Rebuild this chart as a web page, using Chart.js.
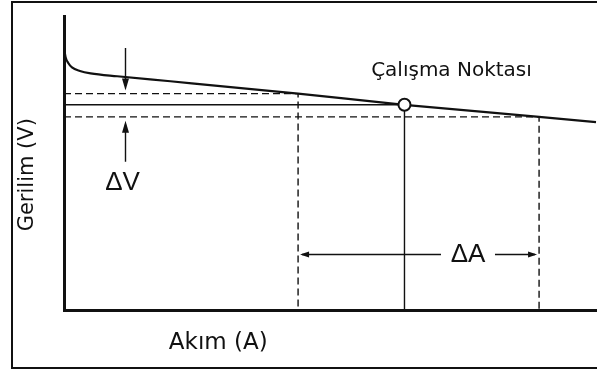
<!DOCTYPE html>
<html lang="tr">
<head>
<meta charset="utf-8">
<title>Gerilim - Akım</title>
<script src="https://cdn.jsdelivr.net/npm/chart.js@4/dist/chart.umd.min.js"></script>
<style>
  html, body { margin: 0; padding: 0; background: #fff; overflow: hidden; }
  #wrap { position: relative; width: 597px; height: 372px; overflow: hidden; }
  #frame { position: absolute; left: 11px; top: 1px; width: 600px; height: 364px;
           border: 2px solid #111; box-sizing: content-box; pointer-events: none; }
  canvas { position: absolute; left: 0; top: 0; }
</style>
</head>
<body>
<div id="wrap">
  <canvas id="chart" width="597" height="372"></canvas>
  <div id="frame"></div>
</div>
<script>
// Source characteristic: current (A) vs. terminal voltage (V), arbitrary units
const currentVals = [0, 0.03, 0.08, 0.15, 0.3, 0.5, 1.0, 2.0, 4.4, 6.4, 8.93, 10];
const voltageVals = [8.91, 8.60, 8.40, 8.25, 8.13, 8.05, 7.95, 7.78, 7.36, 6.98, 6.57, 6.39];

// Operating point and the current swing around it
const operatingCurrent = [6.4];
const operatingVoltage = [6.98];
const swingCurrent = [4.4, 8.93];   // lower / upper current bound (ΔA)
const swingVoltage = [7.36, 6.57];  // voltage at those bounds (ΔV)

const axisLabels = { x: 'Akım (A)', y: 'Gerilim (V)' };
const pointLabel = 'Çalışma Noktası';
const deltaLabels = { v: 'ΔV', a: 'ΔA' };

const ink = '#111';

const curve = currentVals.map((x, i) => ({ x, y: voltageVals[i] }));
const opPoint = { x: operatingCurrent[0], y: operatingVoltage[0] };

function arrowHead(ctx, x, y, dx, dy, len, half) {
  // tip at (x, y), pointing along (dx, dy)
  ctx.beginPath();
  ctx.moveTo(x, y);
  ctx.lineTo(x - dx * len - dy * half, y - dy * len + dx * half);
  ctx.lineTo(x - dx * len + dy * half, y - dy * len - dx * half);
  ctx.closePath();
  ctx.fill();
}

const annotations = {
  id: 'annotations',
  afterDraw(chart) {
    const { ctx, scales: { x: sx, y: sy }, chartArea: ca } = chart;
    ctx.save();
    ctx.fillStyle = ink;
    ctx.strokeStyle = ink;

    // operating point caption
    ctx.font = '20px "DejaVu Sans"';
    ctx.textAlign = 'center';
    ctx.textBaseline = 'alphabetic';
    ctx.fillText(pointLabel, sx.getPixelForValue(opPoint.x) + 47, sy.getPixelForValue(opPoint.y) - 29);

    // ΔV arrows: one pointing down onto the upper bound, one pointing up onto the lower bound
    const avx = Math.round(sx.getPixelForValue(1.15)) + 0.5;
    const vTop = sy.getPixelForValue(swingVoltage[0]);
    const vBot = sy.getPixelForValue(swingVoltage[1]);
    ctx.lineWidth = 1.4;
    ctx.beginPath();
    ctx.moveTo(avx, ca.top + 32);
    ctx.lineTo(avx, vTop - 8);
    ctx.moveTo(avx, vBot + 8);
    ctx.lineTo(avx, vBot + 45);
    ctx.stroke();
    arrowHead(ctx, avx, vTop - 3, 0, 1, 12, 3.5);
    arrowHead(ctx, avx, vBot + 4, 0, -1, 12, 3.5);

    ctx.font = '26px "Liberation Sans"';
    ctx.textAlign = 'center';
    ctx.textBaseline = 'middle';
    ctx.fillText(deltaLabels.v, avx - 3, vBot + 66);

    // ΔA dimension arrow between the two current bounds
    const aL = sx.getPixelForValue(swingCurrent[0]);
    const aR = sx.getPixelForValue(swingCurrent[1]);
    const ay = Math.round(sy.getPixelForValue(1.9)) + 0.5;
    const tx = aL + (aR - aL) * 0.705;
    ctx.beginPath();
    ctx.moveTo(aL + 4, ay);
    ctx.lineTo(tx - 27, ay);
    ctx.moveTo(tx + 27, ay);
    ctx.lineTo(aR - 4, ay);
    ctx.stroke();
    arrowHead(ctx, aL + 2, ay, -1, 0, 9, 3);
    arrowHead(ctx, aR - 2, ay, 1, 0, 9, 3);
    ctx.fillText(deltaLabels.a, tx, ay);

    // axis captions
    ctx.font = '23px "DejaVu Sans"';
    ctx.textAlign = 'center';
    ctx.textBaseline = 'middle';
    ctx.fillText(axisLabels.x, sx.getPixelForValue(2.9), ca.bottom + 33);
    ctx.save();
    ctx.translate(28, sy.getPixelForValue(4.6));
    ctx.rotate(-Math.PI / 2);
    ctx.font = '21px "DejaVu Sans"';
    ctx.fillText(axisLabels.y, 0, 0);
    ctx.restore();

    ctx.restore();
  }
};

new Chart(document.getElementById('chart'), {
  type: 'line',
  data: {
    datasets: [
      {
        type: 'scatter',
        data: [opPoint],
        pointRadius: 6,
        pointBackgroundColor: '#fff',
        pointBorderColor: ink,
        pointBorderWidth: 2,
        clip: false
      },
      {
        data: curve,
        borderColor: ink,
        borderWidth: 2.2,
        pointRadius: 0,
        cubicInterpolationMode: 'monotone',
        clip: false
      },
      {
        data: [{ x: 0, y: opPoint.y }, { x: opPoint.x, y: opPoint.y }, { x: opPoint.x, y: 0 }],
        borderColor: ink,
        borderWidth: 1.4,
        pointRadius: 0
      },
      {
        data: [{ x: 0, y: swingVoltage[0] }, { x: swingCurrent[0], y: swingVoltage[0] }, { x: swingCurrent[0], y: 0 }],
        borderColor: ink,
        borderWidth: 1.4,
        borderDash: [7, 4],
        pointRadius: 0
      },
      {
        data: [{ x: 0, y: swingVoltage[1] }, { x: swingCurrent[1], y: swingVoltage[1] }, { x: swingCurrent[1], y: 0 }],
        borderColor: ink,
        borderWidth: 1.4,
        borderDash: [7, 4],
        pointRadius: 0
      }
    ]
  },
  options: {
    responsive: false,
    animation: false,
    events: [],
    layout: { autoPadding: false, padding: { top: 16, right: 1, left: 0, bottom: 0 } },
    plugins: { legend: { display: false }, tooltip: { enabled: false }, title: { display: false } },
    scales: {
      x: {
        type: 'linear', min: 0, max: 10,
        grid: { display: false },
        ticks: { display: false },
        border: { display: true, width: 3, color: ink },
        afterFit(s) { s.height = 62; }
      },
      y: {
        type: 'linear', min: 0, max: 10,
        grid: { display: false },
        ticks: { display: false },
        border: { display: true, width: 3, color: ink },
        afterFit(s) { s.width = 64; }
      }
    }
  },
  plugins: [annotations]
});
</script>
</body>
</html>
